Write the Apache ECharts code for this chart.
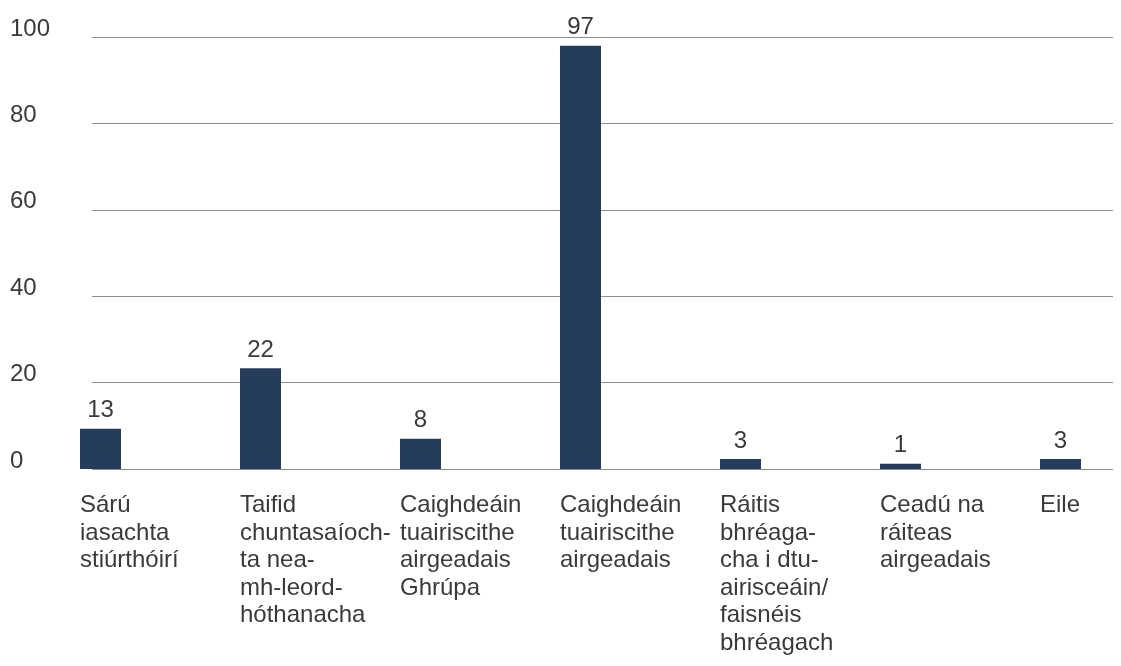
<!DOCTYPE html>
<html>
<head>
<meta charset="utf-8">
<script src="https://cdn.jsdelivr.net/npm/echarts@6/dist/echarts.min.js"></script>
<style>
html,body{margin:0;padding:0;background:#fff;}
#chart{width:1121px;height:666px;}
</style>
</head>
<body>
<div id="chart"></div>
<script>
const categories = [
  'Sárú\niasachta\nstiúrthóirí',
  'Taifid\nchuntasaíoch-\nta nea-\nmh-leord-\nhóthanacha',
  'Caighdeáin\ntuairiscithe\nairgeadais\nGhrúpa',
  'Caighdeáin\ntuairiscithe\nairgeadais',
  'Ráitis\nbhréaga-\ncha i dtu-\nairisceáin/\nfaisnéis\nbhréagach',
  'Ceadú na\nráiteas\nairgeadais',
  'Eile'
];
// bar heights as drawn in the picture
const barValues = [9.3, 23.3, 7.0, 98.0, 2.3, 1.2, 2.3];
// numbers printed above the bars
const valueLabels = ['13', '22', '8', '97', '3', '1', '3'];
const yTicks = [0, 20, 40, 60, 80, 100];

const FONT = 'Liberation Sans, Arial, sans-serif';
const TEXT = '#3a3a3a';
const chart = echarts.init(document.getElementById('chart'), null, {renderer: 'canvas'});
chart.setOption({
  animation: false,
  backgroundColor: '#ffffff',
  textStyle: {fontFamily: FONT},
  grid: [
    {left: 92, right: 8, top: 37, bottom: 197},
    {left: 0, right: 1, top: 37, bottom: 197}
  ],
  xAxis: [
    {gridIndex: 0, type: 'value', show: false, min: 0, max: 1},
    {
      gridIndex: 1, type: 'category', data: categories, boundaryGap: true,
      axisLine: {show: false}, axisTick: {show: false}, splitLine: {show: false},
      axisLabel: {
        interval: 0, hideOverlap: false, align: 'left', verticalAlign: 'top',
        margin: 23, fontSize: 24, lineHeight: 27.5, color: TEXT, fontFamily: FONT
      }
    }
  ],
  yAxis: [
    {
      gridIndex: 0, type: 'value', min: yTicks[0], max: yTicks[yTicks.length - 1], interval: 20,
      axisLine: {show: false}, axisTick: {show: false},
      splitLine: {show: true, lineStyle: {color: '#8c8c8c', width: 1}},
      axisLabel: {
        align: 'left', verticalAlign: 'bottom', lineHeight: 16, margin: 82,
        fontSize: 24, color: TEXT, fontFamily: FONT
      }
    },
    {gridIndex: 1, type: 'value', min: 0, max: 100, show: false}
  ],
  series: [
    {
      type: 'bar', xAxisIndex: 1, yAxisIndex: 1,
      data: categories.map(() => null),
      barWidth: 41, barGap: '0%', silent: true
    },
    {
      type: 'bar', xAxisIndex: 1, yAxisIndex: 1,
      data: barValues,
      barWidth: 41, barGap: '0%',
      itemStyle: {color: '#253c5d'},
      label: {
        show: true, position: 'top', distance: 6,
        fontSize: 24, lineHeight: 24, color: TEXT, fontFamily: FONT,
        formatter: p => valueLabels[p.dataIndex]
      }
    }
  ]
});
</script>
</body>
</html>
